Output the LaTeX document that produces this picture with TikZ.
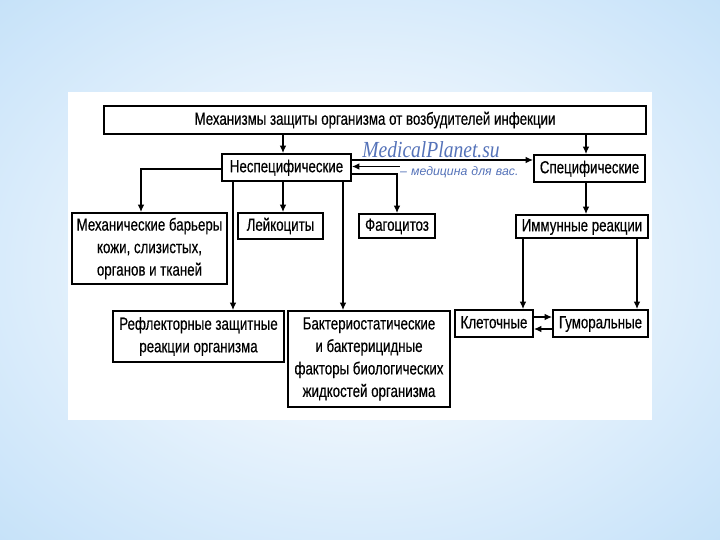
\documentclass[tikz,border=0pt]{standalone}
\usepackage{fontspec}
\setmainfont{Liberation Sans}[FakeStretch=0.76, FakeBold=0.4]
\newfontfamily\wmserif{Liberation Serif}[FakeStretch=0.85]
\newfontfamily\wmsans{Liberation Sans}
\usetikzlibrary{arrows.meta}
\definecolor{bgin}{RGB}{238,246,253}
\definecolor{bgout}{RGB}{170,212,246}
\definecolor{wmblue}{RGB}{85,115,185}
\pgfdeclareradialshading{bgshade}{\pgfpoint{0bp}{0bp}}{color(0bp)=(bgin); color(12bp)=(bgin); color(52bp)=(bgout); color(80bp)=(bgout)}
\begin{document}
\begin{tikzpicture}[x=1pt,y=-1pt,
  box/.style={draw=black, line width=1.7pt, fill=white, inner sep=0pt, align=center,
    font=\fontsize{17.5}{22.5}\selectfont},
  one/.style={text height=12.5pt, text depth=3pt},
  arr/.style={line width=1.3pt, -{Latex[length=7.5pt,width=6.5pt]}},
  wmbig/.style={text=wmblue, inner sep=0pt, font=\wmserif\itshape\fontsize{23}{23}\selectfont},
  wmsmall/.style={text=wmblue, fill=white, inner xsep=0pt, inner ysep=0pt, align=left,
    font=\wmsans\itshape\fontsize{12.3}{12.5}\selectfont}]
\useasboundingbox (0,0) rectangle (720,540);
\shade[shading=bgshade] (0,0) rectangle (720,540);
\fill[white] (68,92) rectangle (652,420);

% boxes
\node[box, one, minimum width=542pt, minimum height=28pt] (top) at (375,120) {Механизмы защиты организма от возбудителей инфекции};
\node[box, one, minimum width=129pt, minimum height=27pt] (nsp) at (286.5,167.5) {Неспецифические};
\node[box, one, minimum width=111pt, minimum height=27pt] (sp) at (589.5,168.5) {Специфические};
\node[box, minimum width=155pt, minimum height=71pt] (mech) at (149.5,248.5) {Механические барьеры\\кожи, слизистых,\\органов и тканей};
\node[box, one, minimum width=85pt, minimum height=26pt] (leik) at (280.5,226) {Лейкоциты};
\node[box, one, minimum width=76pt, minimum height=24pt] (fag) at (397,226) {Фагоцитоз};
\node[box, one, minimum width=132pt, minimum height=23pt] (imm) at (582,226.5) {Иммунные реакции};
\node[box, minimum width=171pt, minimum height=51pt] (refl) at (198.5,336.5) {Рефлекторные защитные\\реакции организма};
\node[box, minimum width=162pt, minimum height=96pt] (bakt) at (369,359) {Бактериостатические\\и бактерицидные\\факторы биологических\\жидкостей организма};
\node[box, one, minimum width=78pt, minimum height=27pt] (klet) at (494,323.5) {Клеточные};
\node[box, one, minimum width=95pt, minimum height=27pt] (gum) at (600.5,323.5) {Гуморальные};

% lanes
\coordinate (xa) at (283,0);
\coordinate (xs) at (586,0);
\coordinate (xm) at (141,0);
\coordinate (xr) at (233,0);
\coordinate (xb) at (343,0);
\coordinate (xk) at (523,0);
\coordinate (xg) at (637,0);
\coordinate (ya) at (0,160);
\coordinate (yb) at (0,166.5);
\coordinate (yc) at (0,169);
\coordinate (yd) at (0,174);
\coordinate (ye) at (0,317);
\coordinate (yf) at (0,329);

% connectors
\draw[arr] (xa |- top.south) -- (xa |- nsp.north);
\draw[arr] (xs |- top.south) -- (xs |- sp.north);
\draw[arr] (nsp.east |- ya) -- (sp.west |- ya);
\draw[arr] (sp.west |- yb) -- (nsp.east |- yb);
\draw[arr] (nsp.west |- yc) -| (xm |- mech.north);
\draw[arr] (xr |- nsp.south) -- (xr |- refl.north);
\draw[arr] (xa |- nsp.south) -- (xa |- leik.north);
\draw[arr] (xb |- nsp.south) -- (xb |- bakt.north);
\draw[arr] (nsp.east |- yd) -| (fag.north);
\draw[arr] (xs |- sp.south) -- (xs |- imm.north);
\draw[arr] (xk |- imm.south) -- (xk |- klet.north);
\draw[arr] (xg |- imm.south) -- (xg |- gum.north);
\draw[arr] (klet.east |- ye) -- (gum.west |- ye);
\draw[arr] (gum.west |- yf) -- (klet.east |- yf);

% watermark
\node[wmbig, anchor=base] (wm1) at (431,158) {MedicalPlanet.su};
\node[wmsmall, text width=133pt, minimum height=14pt, anchor=west] (wm2) at (400,172.5) {– медицина для вас.};
\end{tikzpicture}
\end{document}
